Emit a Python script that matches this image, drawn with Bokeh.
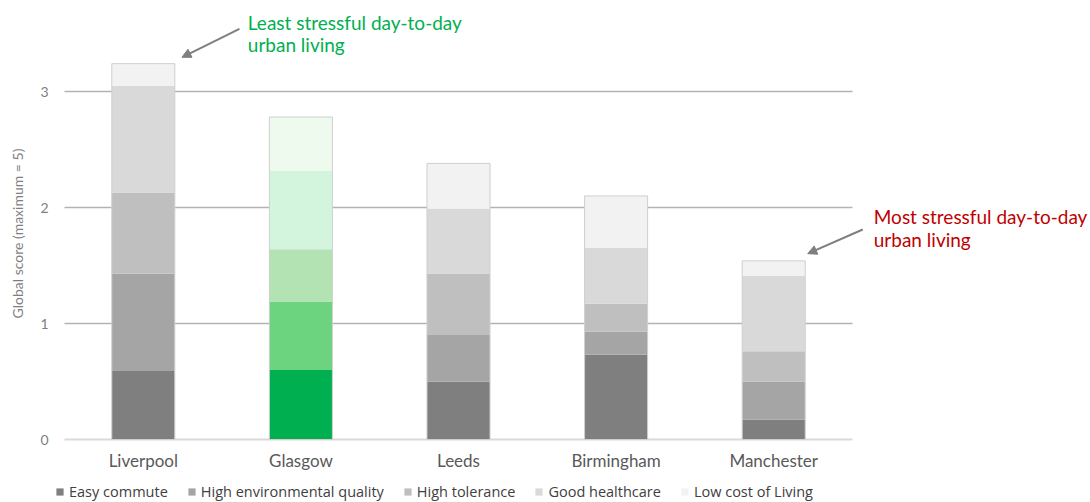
import math
from bokeh.plotting import figure
from bokeh.models import (ColumnDataSource, Range1d, Legend, LegendItem,
                          Label, Arrow, NormalHead)
from bokeh.core.properties import value
from bokeh.embed import file_html
from bokeh.resources import INLINE

cities = ["Liverpool", "Glasgow", "Leeds", "Birmingham", "Manchester"]
factors = ["Easy commute", "High environmental quality", "High tolerance",
           "Good healthcare", "Low cost of Living"]
easy_commute = [0.59, 0.60, 0.50, 0.73, 0.17]
env_quality = [0.84, 0.59, 0.40, 0.20, 0.33]
tolerance = [0.70, 0.45, 0.53, 0.24, 0.26]
healthcare = [0.92, 0.68, 0.56, 0.48, 0.65]
low_cost = [0.19, 0.46, 0.39, 0.45, 0.13]
y_ticks = [0, 1, 2, 3]
y_tick_labels = ["0", "1", "2", "3"]
y_title = "Global score (maximum = 5)"

gray_colors = ["#7f7f7f", "#a5a5a5", "#bfbfbf", "#d9d9d9", "#f2f2f2"]
green_colors = ["#00b050", "#6cd47e", "#b3e3b3", "#d3f5de", "#eefaee"]
highlight = "Glasgow"

series = [easy_commute, env_quality, tolerance, healthcare, low_cost]
n = len(cities)
xs = list(range(1, n + 1))
totals = [sum(s[i] for s in series) for i in range(n)]

UNIT_X = 157.6   # px per category
UNIT_Y = 116.0   # px per score point
W, H = 1090, 502
X0 = 64          # px of the category area's left edge
BASE = 439       # px of score 0 from the top
p = figure(width=W, height=H, min_border=0, x_axis_location=None, y_axis_location=None,
           x_range=Range1d(0.5 - X0 / UNIT_X, 0.5 + (W - X0) / UNIT_X),
           y_range=Range1d(-(H - BASE) / UNIT_Y, BASE / UNIT_Y),
           output_backend="svg", toolbar_location=None)
p.outline_line_color = None
p.grid.visible = False

# gridlines and baseline spanning the category area only
grid_y = [t for t in y_ticks if t > 0]
p.segment(x0=0.5, x1=n + 0.5, y0=grid_y, y1=grid_y, line_color="#b3b3b3", line_width=1.5)
p.segment(x0=0.5, x1=n + 0.5, y0=0, y1=0, line_color="#d9d9d9", line_width=2)

renderers = []
bottoms = [0.0] * n
for k, s in enumerate(series):
    tops = [bottoms[i] + s[i] for i in range(n)]
    cols = [green_colors[k] if c == highlight else gray_colors[k] for c in cities]
    src = ColumnDataSource(dict(x=xs, bottom=list(bottoms), top=tops, color=cols))
    r = p.vbar(x="x", bottom="bottom", top="top", width=0.4, source=src,
               fill_color="color", line_color=None)
    renderers.append(r)
    bottoms = tops

p.vbar(x=xs, bottom=0, top=totals, width=0.4, fill_color=None,
       line_color="#cfcfcf", line_width=1)

# category labels (x axis)
p.text(x=xs, y=-21 / UNIT_Y, text=cities, text_align="center", text_baseline="middle",
       text_font=value("Lato"), text_font_size="17px", text_color="#595959")

# y tick labels and title
p.text(x=0.5 - 16 / UNIT_X, y=y_ticks, text=y_tick_labels, text_align="right",
       text_baseline="middle", text_font=value("Lato"), text_font_size="14px",
       text_color="#7f7f7f")
p.add_layout(Label(x=0.5 - 47 / UNIT_X, y=206 / UNIT_Y, text=y_title, angle=math.pi / 2,
                   text_align="center", text_baseline="middle", text_font="Lato",
                   text_font_size="14px", text_color="#7f7f7f"))

items = [LegendItem(label=f, renderers=[r], index=0) for f, r in zip(factors, renderers)]
legend = Legend(items=items, orientation="horizontal", location=(55, 1),
                glyph_width=9, glyph_height=9, label_standoff=5, spacing=19,
                label_text_font="Open Sans", label_text_font_size="14.5px",
                label_text_color="#404040", padding=0, margin=0,
                border_line_color=None, background_fill_alpha=0, label_height=16)
p.add_layout(legend, "center")

# annotations
liv = cities.index("Liverpool")
man = cities.index("Manchester")
head = dict(size=9, fill_color="#7f7f7f", line_color="#7f7f7f")
p.add_layout(Arrow(end=NormalHead(**head),
                   x_start=xs[liv] + 0.61, y_start=totals[liv] + 0.30,
                   x_end=xs[liv] + 0.245, y_end=totals[liv] + 0.055,
                   line_color="#7f7f7f", line_width=2))
p.add_layout(Arrow(end=NormalHead(**head),
                   x_start=xs[man] + 0.565, y_start=totals[man] + 0.27,
                   x_end=xs[man] + 0.216, y_end=totals[man] + 0.062,
                   line_color="#7f7f7f", line_width=2))

for txt, x, y, col in [("Least stressful day-to-day", 1.663, 3.595, "#00b050"),
                       ("urban living", 1.663, 3.405, "#00b050"),
                       ("Most stressful day-to-day", 5.635, 1.922, "#c00000"),
                       ("urban living", 5.635, 1.724, "#c00000")]:
    p.add_layout(Label(x=x, y=y, text=txt, text_color=col, text_font="Lato",
                       text_font_size="19px", text_baseline="alphabetic"))

open("out.html", "w").write(file_html(p, INLINE))
